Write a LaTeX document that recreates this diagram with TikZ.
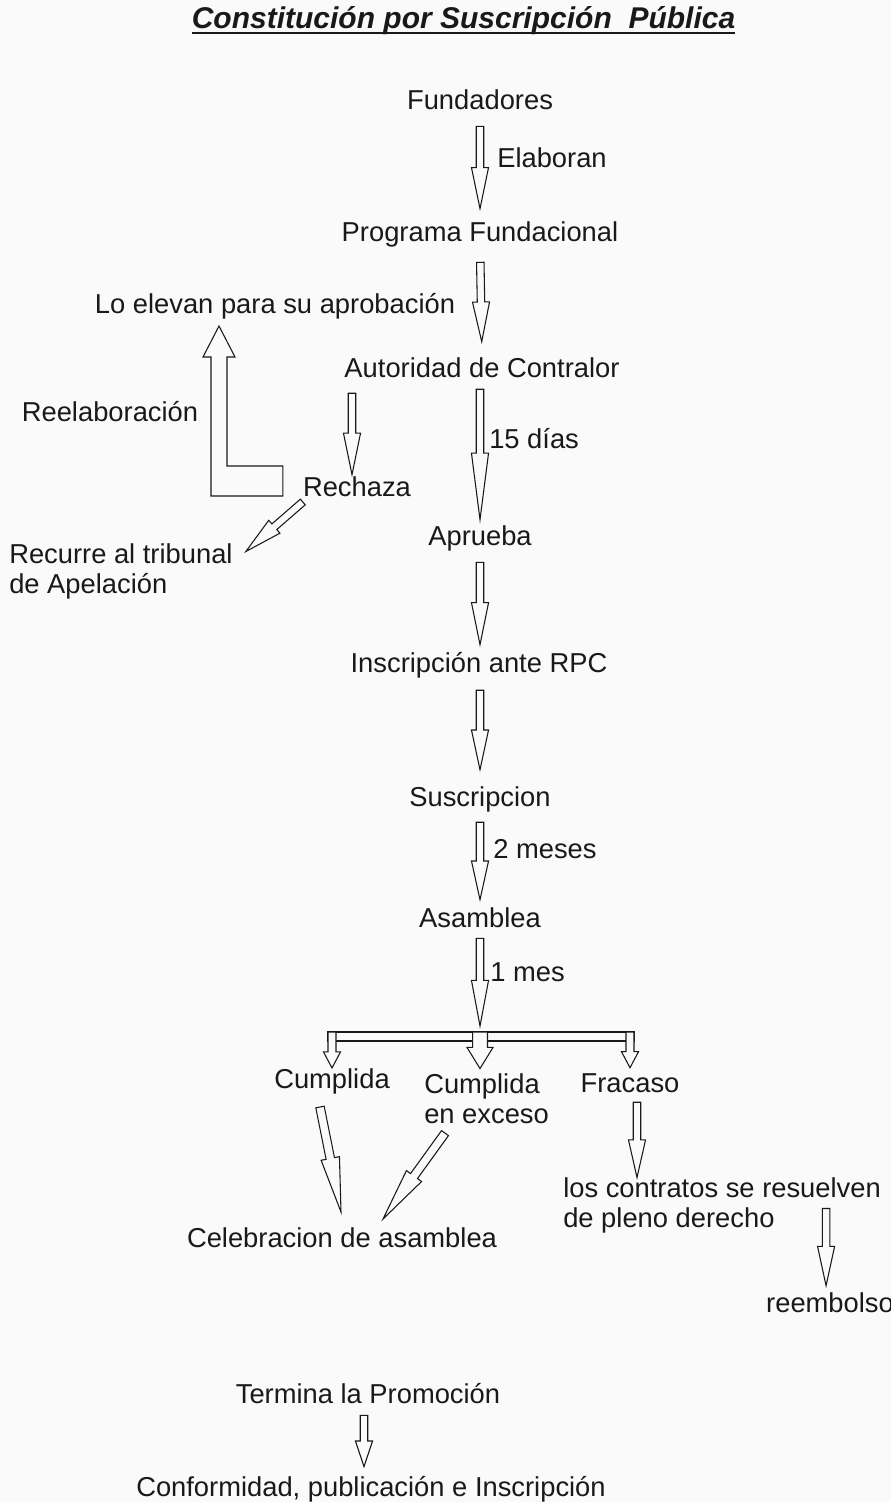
\documentclass[tikz,border=0pt]{standalone}
\usepackage{fontspec}
\setmainfont{Liberation Sans}
\usetikzlibrary{calc}
\definecolor{paper}{RGB}{250,250,250}
\definecolor{ink}{RGB}{25,25,25}
\def\shaftw{2.8pt}
\def\headw{6.4pt}
\def\blockarrow[#1:#2:#3](#4)(#5){%
	\coordinate (ba-s) at ($(#4)!#1!(#5)$);
	\coordinate (ba-t) at ($(#5)!#2!(#4)$);
	\coordinate (ba-h) at ($(ba-s)!#3!(ba-t)$);
	\draw[hollow] ($(ba-s)!\shaftw!90:(ba-t)$) -- ($(ba-h)!\shaftw!90:(ba-t)$) -- ($(ba-h)!\headw!90:(ba-t)$) -- (ba-t)
	-- ($(ba-h)!\headw!-90:(ba-t)$) -- ($(ba-h)!\shaftw!-90:(ba-t)$) -- ($(ba-s)!\shaftw!-90:(ba-t)$) -- cycle;}

\begin{document}
\begin{tikzpicture}[x=0.75pt, y=-0.75pt,
		every node/.style={inner sep=0pt, text=ink, font=\fontsize{20.5pt}{22.5pt}\selectfont},
		lbl/.style={anchor=base, text height=14.8pt, text depth=4.3pt},
		para/.style={anchor=north west, align=left},
		hollow/.style={draw=ink, fill=paper, line width=0.8pt, line join=miter}]
			%%%%% START %%%%%
			\useasboundingbox (0,0) rectangle (891,1502);
			\fill[paper] (0,0) rectangle (891,1502);
			
			\node[anchor=base, font=\fontsize{22.5pt}{27pt}\selectfont\bfseries\itshape] (title) at (463.5,29) {Constitución por Suscripción~ Pública};
			\draw[ink, line width=1.6pt] ([yshift=-3pt]title.base west) -- ([yshift=-3pt]title.base east);
			
			\node[lbl] (fund) at (480,109) {Fundadores};
			\node[lbl] (prog) at (480,241) {Programa Fundacional};
			\node[lbl] (elev) at (275,313) {Lo elevan para su aprobación};
			\node[lbl] (aut) at (482,377) {Autoridad de Contralor};
			\node[lbl] (reel) at (110,421) {Reelaboración};
			\node[lbl] (rech) at (357,496) {Rechaza};
			\node[para] (recu) at (9,543.5) {Recurre al tribunal\\de Apelación};
			\node[lbl] (apr) at (480,545) {Aprueba};
			\node[lbl] (insc) at (479,672) {Inscripción ante RPC};
			\node[lbl] (susc) at (480,806) {Suscripcion};
			\node[lbl] (asam) at (480,927) {Asamblea};
			\node[lbl] (cump) at (332,1088) {Cumplida};
			\node[para] (exce) at (424,1073.5) {Cumplida\\en exceso};
			\node[lbl] (frac) at (630,1092) {Fracaso};
			\node[para] (cont) at (563,1177.5) {los contratos se resuelven\\de pleno derecho};
			\node[lbl] (cele) at (342,1247) {Celebracion de asamblea};
			\node[lbl] (reem) at (830,1312) {reembolso};
			\node[lbl] (term) at (368,1403) {Termina la Promoción};
			\node[lbl] (conf) at (371,1496) {Conformidad, publicación e Inscripción};
			
			\node[lbl, anchor=base west] (elab) at (497,167) {Elaboran};
			\node[lbl, anchor=base west] (dias) at (489,448) {15 días};
			\node[lbl, anchor=base west] (dosm) at (493,858) {2 meses};
			\node[lbl, anchor=base west] (unmes) at (490,981) {1 mes};
			
			\blockarrow[8.5pt:9.2pt:0.5](fund.south)(prog.north)
			\blockarrow[11.5pt:11.5pt:0.5](prog.south)(aut.north)
			\blockarrow[4.7pt:4pt:0.49](apr.north |- aut.south)(apr.north)
			\coordinate (rech-a) at ([xshift=-3.75pt]rech.north);
			\blockarrow[7.7pt:1pt:0.49](rech-a |- aut.south)(rech-a)
			\blockarrow[8.5pt:5.5pt:0.49](apr.south)(apr.south |- insc.north)
			\blockarrow[9.2pt:12.2pt:0.5](susc.north |- insc.south)(susc.north)
			\blockarrow[7.7pt:5.5pt:0.5](susc.south)(asam.north)
			
			% rechazo
			\coordinate (lend) at ($(rech.west)+(-20,-8)$);
			\coordinate (ltip) at ($(elev.south)+(-56,7)$);
			\draw[hollow] (ltip) -- ++(-16,31) -- ++(8,0) -- ($(ltip |- lend)+(-8,15)$) -- ($(lend)+(0,15)$) -- ($(lend)+(0,-15)$)
				-- ($(ltip |- lend)+(8,-15)$) -- ($(ltip)+(8,31)$) -- ($(ltip)+(16,31)$) -- cycle;
			\coordinate (recutip) at ($(recu.north east)+(13,8)$);
			\blockarrow[0pt:0pt:0.5](rech.south west)(recutip)
			
			% suscripcion
			\coordinate (fork) at (480,1032);
			\blockarrow[4pt:4.5pt:0.48](asam.south)(fork)
			\draw[hollow] ($(cump.north |- fork)+(-4,0)$) rectangle ($(frac.north |- fork)+(4,9)$);
			\begin{scope}
				\def\shaftw{3pt}
				\blockarrow[0pt:0pt:0.55](cump.north |- fork)(cump.north)
				\blockarrow[0pt:3.2pt:0.55](frac.north |- fork)(frac.north)
				\def\shaftw{5.6pt}
				\def\headw{9.8pt}
				\blockarrow[0pt:3.75pt:0.42](fork)(fork |- exce.north)
			\end{scope}
			
			\begin{scope}
				\def\shaftw{3.2pt}
				\def\headw{7pt}
				\coordinate (cump-a) at ($(cump.south)+(-12,13)$);
				\coordinate (cump-b) at ($(cele.north)+(-1,-15)$);
				\blockarrow[0pt:0pt:0.49](cump-a)(cump-b)
				\coordinate (exce-a) at ($(exce.south west)+(21,9)$);
				\coordinate (exce-b) at ($(cele.north)+(41,-8)$);
				\blockarrow[0pt:0pt:0.5](exce-a)(exce-b)
			\end{scope}
			
			\coordinate (frac-a) at ([xshift=5.25pt]frac.south);
			\blockarrow[3.2pt:0pt:0.5](frac-a)(frac-a |- cont.north)
			\coordinate (reem-a) at ($(cont.east)+(-55,3)$);
			\blockarrow[0pt:4.7pt:0.49](reem-a)(reem-a |- reem.north)
			
			\coordinate (term-a) at ([xshift=-3pt]term.south);
			\blockarrow[4.7pt:7pt:0.5](term-a)(term-a |- conf.north)
			%%%%% END %%%%%
\end{tikzpicture}
\end{document}
